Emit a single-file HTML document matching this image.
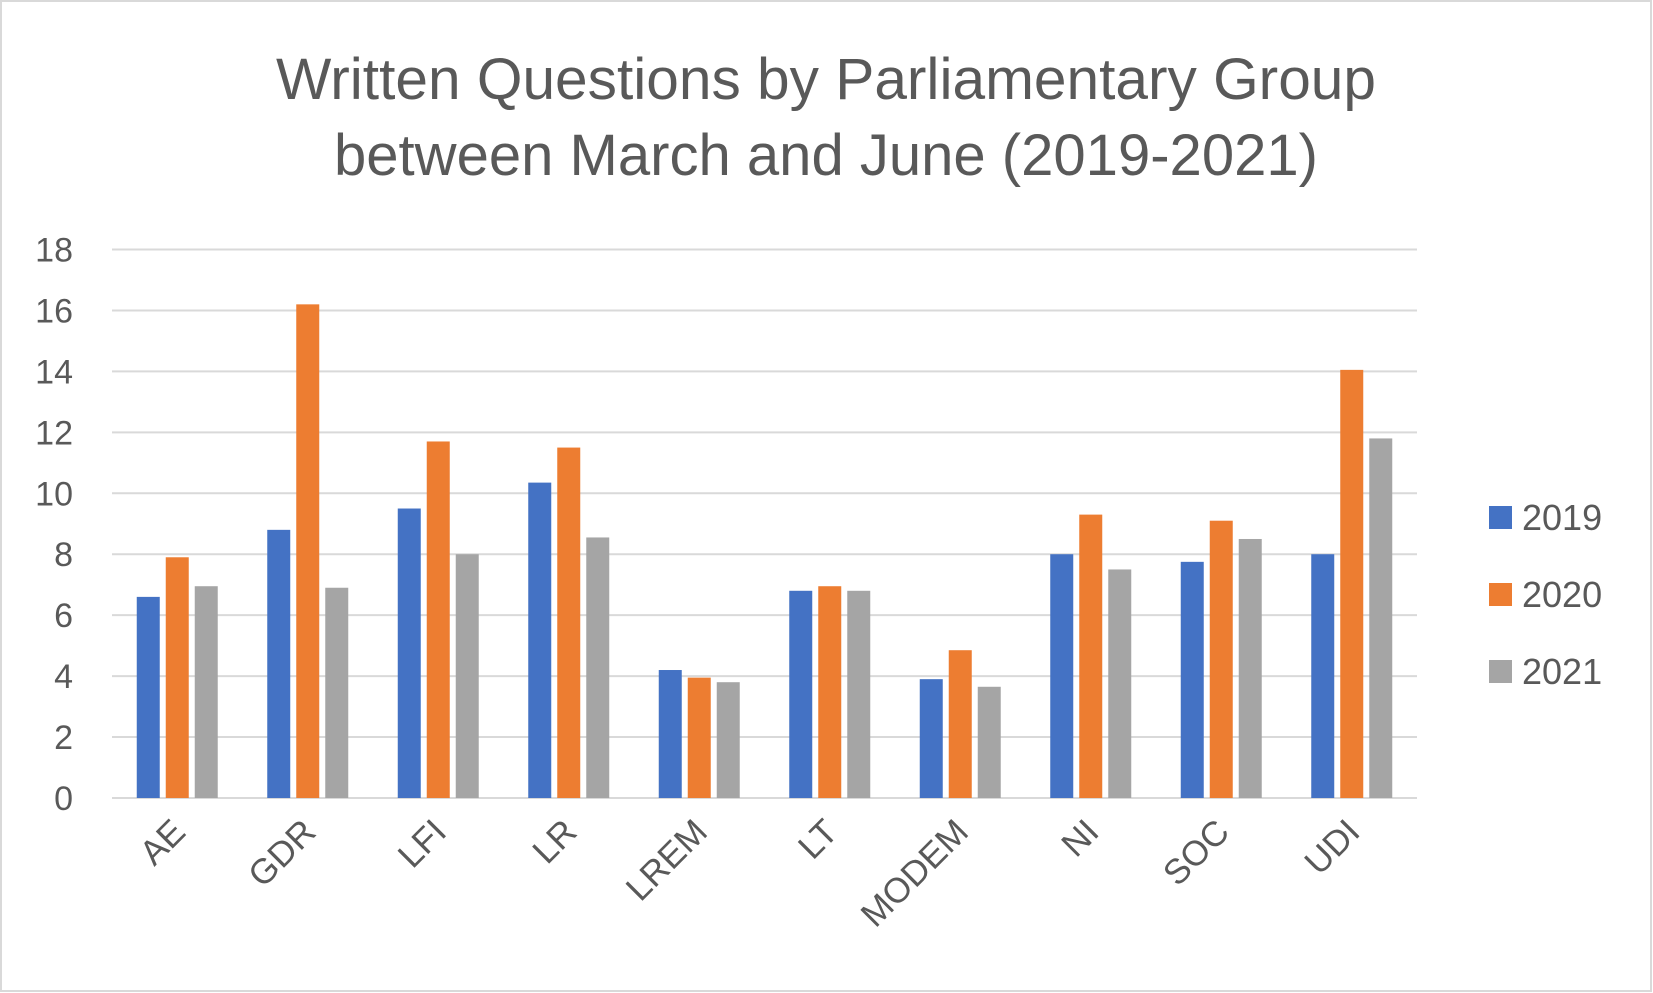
<!DOCTYPE html>
<html><head><meta charset="utf-8"><style>
body{margin:0;background:#fff;}
svg{display:block;font-family:"Liberation Sans",sans-serif;}
</style></head><body>
<svg id="chart" width="1653" height="993" viewBox="0 0 1653 993">
<rect x="1" y="1" width="1650" height="990" fill="#fff" stroke="#d9d9d9" stroke-width="2"/>
<text x="826" y="99" text-anchor="middle" font-size="58" fill="#595959" textLength="1100" lengthAdjust="spacingAndGlyphs">Written Questions by Parliamentary Group</text>
<text x="826" y="175" text-anchor="middle" font-size="58" fill="#595959" textLength="984" lengthAdjust="spacingAndGlyphs">between March and June (2019-2021)</text>
<g id="grid"></g><g id="bars"></g><g id="xlabels"></g><g id="legend"></g>
</svg>
<script>
const categories=["AE","GDR","LFI","LR","LREM","LT","MODEM","NI","SOC","UDI"];
const s2019=[6.6,8.8,9.5,10.35,4.2,6.8,3.9,8.0,7.75,8.0];
const s2020=[7.9,16.2,11.7,11.5,3.95,6.95,4.85,9.3,9.1,14.05];
const s2021=[6.95,6.9,8.0,8.55,3.8,6.8,3.65,7.5,8.5,11.8];
const seriesNames=["2019","2020","2021"];
const yTicks=[0,2,4,6,8,10,12,14,16,18];
const NS="http://www.w3.org/2000/svg";
const colors=["#4472c4","#ed7d31","#a5a5a5"];
const left=112,right=1417,y0=798,y18=249.5;
const y=v=>y0-(v/18)*(y0-y18);
const band=(right-left)/categories.length;
const cx=i=>left+band*(i+0.5);
function mk(tag,attrs,parent){const e=document.createElementNS(NS,tag);for(const k in attrs)e.setAttribute(k,attrs[k]);parent.appendChild(e);return e;}
const grid=document.getElementById('grid');
yTicks.forEach(t=>{
  const l=mk('line',{x1:left,x2:right,y1:y(t),y2:y(t),stroke:'#d9d9d9','stroke-width':2},grid);
  
  
  const tx=mk('text',{x:73,y:y(t)+12,'text-anchor':'end','font-size':34,fill:'#595959'},grid);
  tx.textContent=t;
  
  
});
const bars=document.getElementById('bars');
const series=[s2019,s2020,s2021];
const bw=23,gap=6;
series.forEach((s,si)=>{
  s.forEach((v,i)=>{
    const x=cx(i)-(3*bw+2*gap)/2+si*(bw+gap);
    const r=mk('rect',{x:x,y:y(v),width:bw,height:y0-y(v),fill:colors[si]},bars);
    
    
  });
});
const xl=document.getElementById('xlabels');
categories.forEach((c,i)=>{
  const x=cx(i)+10,yy=834;
  const t=mk('text',{x:x,y:yy,'text-anchor':'end','font-size':35,fill:'#595959',transform:`rotate(-45 ${x} ${yy})`},xl);
  t.textContent=c;
  
  
});
const lg=document.getElementById('legend');
seriesNames.forEach((n,i)=>{
  const yy=517+i*77;
  const g=mk('g',{},lg);
  
  
  mk('rect',{x:1489,y:yy-11,width:23,height:23,fill:colors[i]},g);
  const t=mk('text',{x:1522,y:yy+13,'font-size':36,fill:'#595959'},g);
  t.textContent=n;
});
</script>
</body></html>
